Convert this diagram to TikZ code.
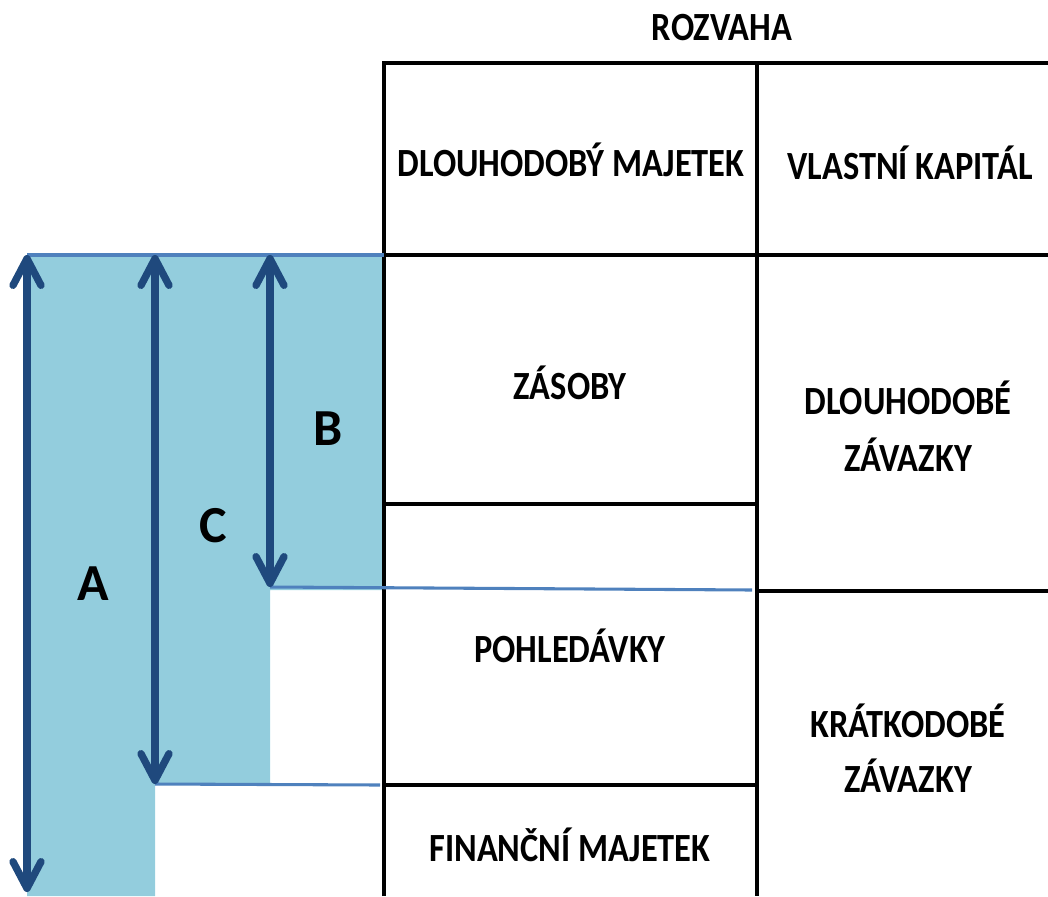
\documentclass[tikz,border=0pt]{standalone}
\usepackage{fontspec}
\setmainfont{Carlito}
\usetikzlibrary{arrows.meta}
\definecolor{fillblue}{HTML}{93CDDD}
\definecolor{lineblue}{HTML}{4F81BD}
\definecolor{arrowblue}{HTML}{1F497D}
\newcommand{\cond}[1]{\scalebox{0.86}[1]{#1}}
\tikzset{
  grid/.style={line width=2.4pt, black},
  sep/.style={line width=2.3pt, lineblue},
  dim/.style={line width=5.5pt, arrowblue, {Straight Barb[round,length=20pt,width=21pt]}-{Straight Barb[round,length=20pt,width=21pt]}},
  lbl/.style={font=\fontsize{30}{34}\selectfont\bfseries, align=center, inner sep=0pt},
  big/.style={font=\fontsize{39}{40}\selectfont\bfseries, inner sep=0pt}
}
\begin{document}
\begin{tikzpicture}[x=0.75pt,y=-0.75pt]
\useasboundingbox (0,0) rectangle (1048,896);
% fill
\fill[fillblue] (27,255) -- (384,255) -- (384,590) -- (270,590) -- (270,784) -- (155,784) -- (155,896) -- (27,896) -- cycle;
% table grid
\draw[grid] (384,896) -- (384,63) -- (1048,63);
\draw[grid] (757,63) -- (757,896);
\draw[grid] (384,255) -- (1048,255);
\draw[grid] (384,504) -- (757,504);
\draw[grid] (757,591) -- (1048,591);
\draw[grid] (384,785) -- (757,785);
% blue lines
\coordinate (tA) at (27,255);
\coordinate (bA) at (27,896);
\coordinate (tC) at (155,255);
\coordinate (bC) at (155,784);
\coordinate (tB) at (270,255);
\coordinate (bB) at (270,587);
\coordinate (e1) at (384,255);
\coordinate (e2) at (752,590);
\coordinate (e3) at (380,785);
\draw[sep] (tA) -- (e1);
\draw[sep] (bB) -- (e2);
\draw[sep] (bC) -- (e3);
% arrows
\draw[dim] (tA) -- ([yshift=3]bA);
\draw[dim] (tC) -- (bC);
\draw[dim] (tB) -- (bB);
% labels
\node[big] (la) at (93,584) {A};
\node[big] (lc) at (213,526) {C};
\node[big] (lb) at (328,429) {B};
\node[lbl] (title) at (722,28) {\cond{ROZVAHA}};
\node[lbl] (dm) at (571,160) {\cond{DLOUHODOBÝ MAJETEK}};
\node[lbl] (vk) at (910,163) {\cond{VLASTNÍ KAPITÁL}};
\node[lbl] (zas) at (570,383) {\cond{ZÁSOBY}};
\node[lbl] (dz1) at (908,398) {\cond{DLOUHODOBÉ}};
\node[lbl] (dz2) at (908,455) {\cond{ZÁVAZKY}};
\node[lbl] (poh) at (570,646) {\cond{POHLEDÁVKY}};
\node[lbl] (kz1) at (908,721) {\cond{KRÁTKODOBÉ}};
\node[lbl] (kz2) at (908,776) {\cond{ZÁVAZKY}};
\node[lbl] (fm) at (570,845) {\cond{FINANČNÍ MAJETEK}};
\end{tikzpicture}
\end{document}
